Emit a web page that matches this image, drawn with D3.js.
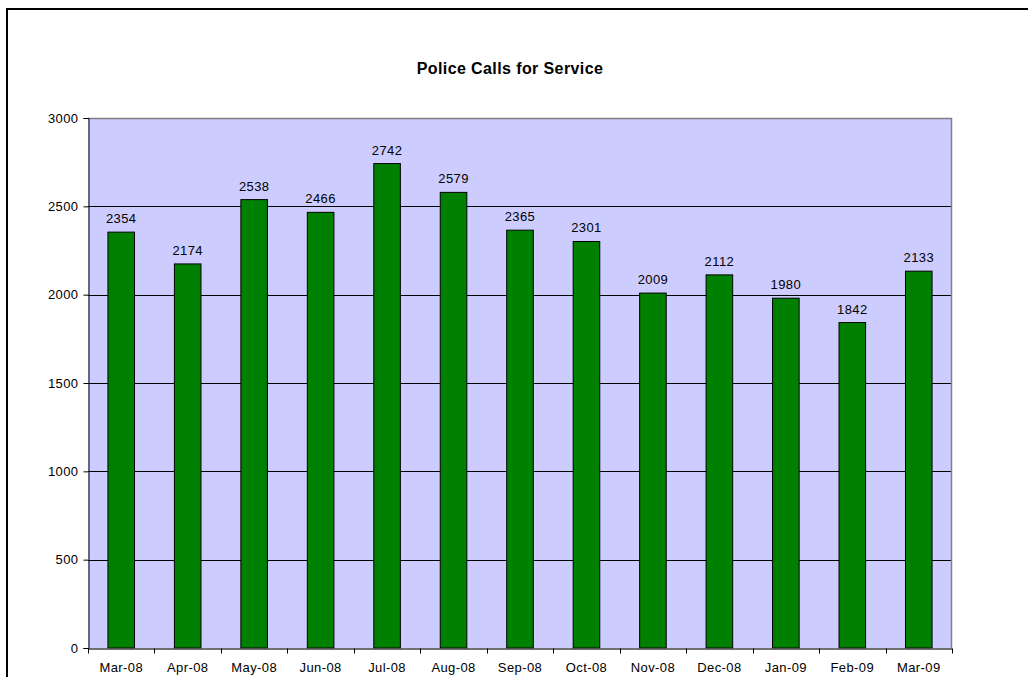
<!DOCTYPE html>
<html>
<head>
<meta charset="utf-8">
<script src="https://cdn.jsdelivr.net/npm/d3@7"></script>
<style>
  body { margin: 0; background: #fff; }
  svg { display: block; font-family: "Liberation Sans", Arial, sans-serif; }
</style>
</head>
<body>
<div id="chart"></div>
<script>
// chart data
var months = ["Mar-08", "Apr-08", "May-08", "Jun-08", "Jul-08", "Aug-08", "Sep-08",
  "Oct-08", "Nov-08", "Dec-08", "Jan-09", "Feb-09", "Mar-09"];
var calls = [2354, 2174, 2538, 2466, 2742, 2579, 2365, 2301, 2009, 2112, 1980, 1842, 2133];
var yTicks = [0, 500, 1000, 1500, 2000, 2500, 3000];

var svgWidth = 1028;
var svgHeight = 677;

var margin = { top: 118, right: 76, bottom: 29, left: 88 };
var width = svgWidth - margin.left - margin.right;
var height = svgHeight - margin.top - margin.bottom;

var svg = d3.select("#chart")
  .append("svg")
  .attr("width", svgWidth)
  .attr("height", svgHeight);

// outer chart frame (runs off the right and bottom of the page)
svg.append("rect")
  .attr("x", 7)
  .attr("y", 9)
  .attr("width", 1100)
  .attr("height", 800)
  .attr("fill", "none")
  .attr("stroke", "#000")
  .attr("stroke-width", 2);

svg.append("text")
  .attr("x", 510)
  .attr("y", 74)
  .attr("text-anchor", "middle")
  .attr("font-size", "16px")
  .attr("font-weight", "bold")
  .attr("letter-spacing", "0.4px")
  .attr("fill", "#000")
  .text("Police Calls for Service");

var chartGroup = svg.append("g")
  .attr("transform", `translate(${margin.left}, ${margin.top})`);

var xScale = d3.scaleBand()
  .domain(months)
  .range([0, width])
  .paddingInner(0.6)
  .paddingOuter(0.3);

var yScale = d3.scaleLinear()
  .domain([0, 3000])
  .range([height, 0]);

// plot area
chartGroup.append("rect")
  .attr("width", width)
  .attr("height", height)
  .attr("fill", "#ccccff");

// gridlines
chartGroup.selectAll(".grid")
  .data(yTicks.filter(d => d > 0 && d < 3000))
  .enter()
  .append("line")
  .attr("x1", 0)
  .attr("x2", width)
  .attr("y1", d => Math.round(yScale(d)) + 0.5)
  .attr("y2", d => Math.round(yScale(d)) + 0.5)
  .attr("stroke", "#000")
  .attr("stroke-width", 1);

// top and right border of plot area
chartGroup.append("path")
  .attr("d", `M0,0.5H${width - 0.5}V${height}`)
  .attr("fill", "none")
  .attr("stroke", "#808080")
  .attr("stroke-width", 1.5);

// bars
chartGroup.selectAll(".bar")
  .data(calls)
  .enter()
  .append("rect")
  .attr("x", (d, i) => xScale(months[i]))
  .attr("y", d => yScale(d))
  .attr("width", xScale.bandwidth())
  .attr("height", d => height - yScale(d))
  .attr("fill", "#008000")
  .attr("stroke", "#000")
  .attr("stroke-width", 1);

// value labels
chartGroup.selectAll(".val")
  .data(calls)
  .enter()
  .append("text")
  .attr("x", (d, i) => xScale(months[i]) + xScale.bandwidth() / 2)
  .attr("y", d => yScale(d) - 9)
  .attr("text-anchor", "middle")
  .attr("font-size", "13px")
  .attr("letter-spacing", "0.4px")
  .attr("fill", "#000")
  .text(d => d);

// y axis
var leftAxis = d3.axisLeft(yScale)
  .tickValues(yTicks)
  .tickFormat(d3.format("d"))
  .tickSize(5)
  .tickPadding(5);

var yAxis = chartGroup.append("g")
  .attr("transform", "translate(0.5,0)")
  .call(leftAxis);
yAxis.select(".domain").attr("stroke", "#000");
yAxis.selectAll("text")
  .attr("font-size", "13px")
  .attr("letter-spacing", "0.4px")
  .attr("fill", "#000")
  .attr("font-family", null);

// x axis with ticks between categories
var bottomAxis = d3.axisBottom(xScale)
  .tickSize(0)
  .tickPadding(14);

var xAxis = chartGroup.append("g")
  .attr("transform", `translate(0, ${height + 0.5})`)
  .call(bottomAxis);
xAxis.select(".domain").attr("stroke", "#404040").attr("stroke-width", 1.5);
xAxis.selectAll("text")
  .attr("font-size", "13px")
  .attr("letter-spacing", "0.4px")
  .attr("fill", "#000")
  .attr("font-family", null);

var boundaries = d3.range(months.length + 1).map(i => i * xScale.step());
xAxis.selectAll(".sep")
  .data(boundaries)
  .enter()
  .append("line")
  .attr("x1", d => Math.round(d) + 0.5)
  .attr("x2", d => Math.round(d) + 0.5)
  .attr("y1", 0)
  .attr("y2", 5)
  .attr("stroke", "#000");
</script>
</body>
</html>
